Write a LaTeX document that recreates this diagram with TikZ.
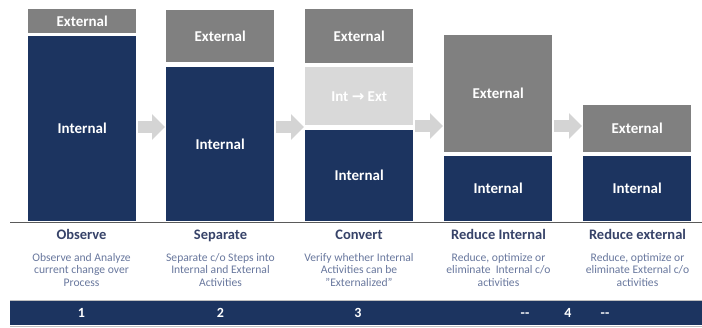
\documentclass[tikz,border=0pt]{standalone}
\usepackage{fontspec}
\setmainfont{Carlito}
\newfontfamily\arrowfont{DejaVu Sans}
\usetikzlibrary{arrows.meta}
\definecolor{navy}{RGB}{28,52,96}
\definecolor{extgray}{RGB}{128,128,128}
\definecolor{convgray}{RGB}{217,217,217}
\definecolor{arrowgray}{RGB}{212,212,212}
\definecolor{titlecol}{RGB}{55,67,105}
\definecolor{desccol}{RGB}{105,120,158}
\definecolor{rulecol}{RGB}{90,90,90}
\tikzset{
  box/.style={anchor=north west, inner sep=0pt, minimum width=108pt, text=white,
    font=\bfseries\fontsize{15}{15}\selectfont},
  extbox/.style={box, fill=extgray},
  intbox/.style={box, fill=navy},
  convbox/.style={box, fill=convgray},
  bigarrow/.style={draw=arrowgray, line width=12pt, line cap=butt,
    -{Triangle[length=13pt, width=25pt]}, shorten <=2pt, shorten >=1pt},
  title/.style={anchor=base, inner sep=0pt, text=titlecol,
    font=\bfseries\fontsize{14.5}{14.5}\selectfont},
  desc/.style={anchor=north, inner sep=0pt, align=center, text=desccol,
    font=\fontsize{11.6}{12.6}\selectfont},
  num/.style={anchor=base, inner sep=0pt, text=white,
    font=\bfseries\fontsize{14}{14}\selectfont},
}
\begin{document}
\begin{tikzpicture}[x=1pt, y=-1pt]
\useasboundingbox (0,0) rectangle (702,328);
\fill[white] (0,0) rectangle (702,328);

% column 1
\node[extbox, minimum height=24pt] (e1) at (28,9) {External};
\node[intbox, minimum height=185pt] (i1) at (28,36) {Internal};
% column 2
\node[extbox, minimum height=52pt] (e2) at (166,10) {External};
\node[intbox, minimum height=154pt] (i2) at (166,67) {Internal};
% column 3
\node[extbox, minimum height=54pt] (e3) at (305,9) {External};
\node[convbox, minimum height=58pt] (c3) at (305,67) {Int {\arrowfont →} Ext};
\node[intbox, minimum height=91pt] (i3) at (305,130) {Internal};
% column 4
\node[extbox, minimum height=117pt] (e4) at (444,35) {External};
\node[intbox, minimum height=65pt] (i4) at (444,156) {Internal};
% column 5
\node[extbox, minimum height=47pt] (e5) at (583,105) {External};
\node[intbox, minimum height=65pt] (i5) at (583,156) {Internal};

% block arrows
\draw[bigarrow] (i1.east |- 0,127) -- (i2.west |- 0,127);
\draw[bigarrow] (i2.east |- 0,127) -- (i3.west |- 0,127);
\draw[bigarrow] (c3.east |- 0,126) -- (e4.west |- 0,126);
\draw[bigarrow] (e4.east |- 0,126) -- (e5.west |- 0,126);

% base rule
\coordinate (rl) at (10,222.5);
\coordinate (rr) at (702,222.5);
\draw[rulecol, line width=1.2pt] (rl) -- (rr);

% titles
\node[title] (t1) at (81.5,240) {Observe};
\node[title] (t2) at (220.5,240) {Separate};
\node[title] (t3) at (359,240) {Convert};
\node[title] (t4) at (498.5,240) {Reduce Internal};
\node[title] (t5) at (637.5,240) {Reduce external};

% descriptions
\node[desc] (d1) at (81.5,253) {Observe and Analyze\\current change over\\Process};
\node[desc] (d2) at (220.5,253) {Separate c/o Steps into\\Internal and External\\Activities};
\node[desc] (d3) at (359,253) {Verify whether Internal\\Activities can be\\"Externalized"};
\node[desc] (d4) at (498.5,253) {Reduce, optimize or\\eliminate\ \ Internal c/o\\activities};
\node[desc] (d5) at (637.5,253) {Reduce, optimize or\\eliminate External c/o\\activities};

% bottom bar
\fill[navy] (10,300.5) rectangle (702,325.5);
\draw[gray!50, line width=0.8pt] (10,300) -- (702,300);
\draw[gray!50, line width=0.8pt] (10,326) -- (702,326);
\node[num] (n1) at (81.5,318) {1};
\node[num] (n2) at (220.5,318) {2};
\node[num] (n3) at (358,318) {3};
\node[num] (n4a) at (525,318) {-{}-};
\node[num] (n4) at (568,318) {4};
\node[num] (n4b) at (605,318) {-{}-};
\end{tikzpicture}
\end{document}
